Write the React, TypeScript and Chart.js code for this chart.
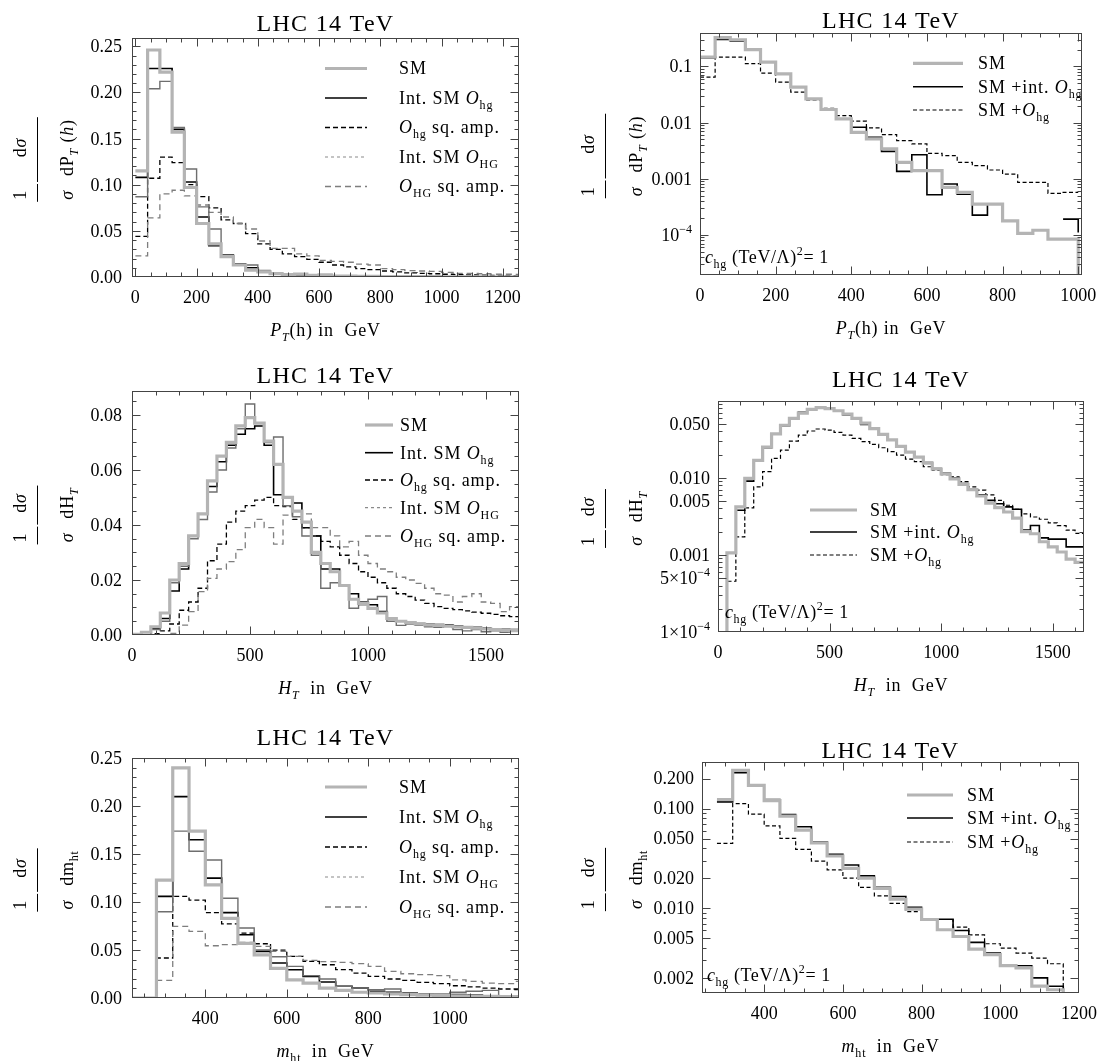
import React, { useEffect, useRef } from "react";
import { Chart, registerables } from "chart.js";

Chart.register(...registerables);

const PAGE_W = 1100;
const PAGE_H = 1061;
const FONT = '"Liberation Serif", "Times New Roman", "DejaVu Serif", serif';
const FRAME = "#444444";

/* ======================= DATA ======================= */
/* P_T(h): 40 GeV bins starting at 0 GeV */
const ptBinStart = 0;
const ptBinWidth = 40;
const ptSM = [0.115, 0.246, 0.222, 0.157, 0.097, 0.058, 0.036, 0.022, 0.013, 0.0075,
  0.0055, 0.0035, 0.0025, 0.0032, 0.0018, 0.0022, 0.0011, 0.0009, 0.0007, 0.0006,
  0.0005, 0.0004, 0.0004, 0.0003, 0.0003, 0.0002, 0.0002, 0.0002, 0.0001, 0.0001,
  0.0001, 0.0001];
const ptIntHg = [0.108, 0.226, 0.226, 0.160, 0.103, 0.065, 0.034, 0.024, 0.014, 0.010,
  0.0055, 0.003, 0.002, 0.0015, 0.0012, 0.001, 0.0008, 0.0006, 0.0005, 0.0004,
  0.0004, 0.0003, 0.0003, 0.0002, 0.0002, 0.0002, 0.0001, 0.0001, 0.0001, 0.0001,
  0.0001, 0.0001];
const ptSqHg = [0.044, 0.107, 0.130, 0.124, 0.100, 0.087, 0.075, 0.062, 0.058, 0.047,
  0.036, 0.030, 0.025, 0.022, 0.019, 0.016, 0.013, 0.011, 0.009, 0.008,
  0.0065, 0.0055, 0.0045, 0.004, 0.0035, 0.003, 0.0026, 0.0022, 0.002, 0.0018,
  0.0015, 0.0013];
const ptIntHG = [0.087, 0.204, 0.212, 0.162, 0.117, 0.076, 0.052, 0.024, 0.013, 0.013,
  0.007, 0.004, 0.003, 0.002, 0.0025, 0.0015, 0.0012, 0.001, 0.0008, 0.0006,
  0.0006, 0.0005, 0.0004, 0.0004, 0.0003, 0.0003, 0.0003, 0.0002, 0.0002, 0.0002,
  0.0002, 0.0002];
const ptSqHG = [0.023, 0.064, 0.090, 0.094, 0.088, 0.078, 0.070, 0.065, 0.058, 0.052,
  0.039, 0.031, 0.031, 0.025, 0.023, 0.018, 0.017, 0.016, 0.014, 0.013,
  0.009, 0.008, 0.007, 0.0065, 0.006, 0.005, 0.004, 0.0038, 0.0035, 0.003,
  0.003, 0.0028];
/* log panel: SM, SM + int. O_hg, SM + O_hg */
const ptLogSM = [0.147, 0.325, 0.299, 0.199, 0.119, 0.074, 0.0428, 0.0265, 0.0171, 0.0116,
  0.00672, 0.00511, 0.00339, 0.00196, 0.00139, 0.00139, 0.0007, 0.00057, 0.000353, 0.000353,
  0.000178, 0.000106, 0.000121, 0.0000837, 0.0000837];
const ptLogSMTail = 0;
const ptLogInt = [0.141, 0.303, 0.283, 0.199, 0.119, 0.074, 0.0428, 0.0265, 0.0171, 0.0116,
  0.00826, 0.00547, 0.00307, 0.00135, 0.00268, 0.000518, 0.000804, 0.000532, 0.000225, 0.000353,
  null, null, null, null, 0.000191];
const ptLogIntTail = 0.00011;
const ptLogFull = [0.0645, 0.147, 0.147, 0.112, 0.076, 0.0525, 0.0348, 0.0254, 0.018, 0.0133,
  0.0106, 0.00804, 0.00611, 0.00477, 0.00416, 0.00283, 0.00258, 0.00196, 0.00171, 0.00143,
  0.00121, 0.000861, 0.000861, 0.000547, 0.00057];

/* H_T: 40 GeV bins starting at 0 GeV */
const htBinStart = 0;
const htBinWidth = 40;
const htSM = [0.0002, 0.001, 0.003, 0.008, 0.020, 0.026, 0.036, 0.044, 0.056, 0.065,
  0.070, 0.076, 0.079, 0.077, 0.0705, 0.062, 0.050, 0.045, 0.041, 0.030,
  0.026, 0.023, 0.018, 0.013, 0.0115, 0.0097, 0.008, 0.006, 0.005, 0.0045,
  0.004, 0.0037, 0.0035, 0.0032, 0.003, 0.0028, 0.0025, 0.0022, 0.002, 0.0018,
  0.0016];
const htIntHg = [0.0002, 0.001, 0.0025, 0.006, 0.016, 0.024, 0.036, 0.044, 0.054, 0.063,
  0.069, 0.073, 0.075, 0.076, 0.069, 0.051, 0.050, 0.048, 0.039, 0.036,
  0.024, 0.024, 0.018, 0.015, 0.012, 0.011, 0.0085, 0.006, 0.005, 0.0045,
  0.0042, 0.004, 0.0038, 0.0037, 0.0033, 0.003, 0.0028, 0.0025, 0.0022, 0.0021,
  0.002];
const htSqHg = [0, 0, 0.0005, 0.0015, 0.004, 0.009, 0.012, 0.017, 0.027, 0.033,
  0.041, 0.045, 0.047, 0.049, 0.050, 0.047, 0.0467, 0.042, 0.039, 0.036,
  0.034, 0.032, 0.029, 0.026, 0.023, 0.021, 0.019, 0.017, 0.015, 0.014,
  0.0127, 0.0115, 0.0103, 0.0097, 0.0092, 0.0088, 0.0083, 0.0079, 0.0075, 0.007,
  0.0067];
const htIntHG = [0.0002, 0.001, 0.002, 0.005, 0.019, 0.025, 0.035, 0.042, 0.052, 0.060,
  0.068, 0.075, 0.084, 0.077, 0.070, 0.072, 0.047, 0.043, 0.036, 0.029,
  0.017, 0.019, 0.018, 0.0097, 0.011, 0.013, 0.014, 0.005, 0.0035, 0.004,
  0.0035, 0.003, 0.0028, 0.0035, 0.002, 0.0015, 0.002, 0.0012, 0.0015, 0.001,
  0.0014];
const htSqHG = [0, 0, 0, 0, 0.0006, 0.0036, 0.0085, 0.0158, 0.0206, 0.024,
  0.0267, 0.031, 0.039, 0.042, 0.039, 0.033, 0.0436, 0.045, 0.044, 0.039,
  0.039, 0.036, 0.032, 0.034, 0.029, 0.026, 0.024, 0.023, 0.021, 0.020,
  0.0188, 0.017, 0.015, 0.0145, 0.012, 0.014, 0.015, 0.012, 0.0115, 0.0085,
  0.0103];
const htLogSM = [0, 0.00106, 0.0042, 0.0098, 0.0168, 0.025, 0.037, 0.048, 0.059, 0.069,
  0.077, 0.081, 0.079, 0.074, 0.067, 0.059, 0.051, 0.0435, 0.0365, 0.031,
  0.0255, 0.0215, 0.0185, 0.0155, 0.013, 0.0112, 0.0097, 0.0082, 0.007, 0.0058,
  0.0047, 0.0041, 0.0036, 0.003, 0.002, 0.00188, 0.00148, 0.00127, 0.00109, 0.00088,
  0.0008];
const htLogInt = [0, 0.00106, 0.0038, 0.00906, 0.0164, 0.0245, 0.0366, 0.0473, 0.059, 0.0705,
  0.078, 0.0819, 0.0794, 0.0734, 0.0652, 0.0573, 0.0493, 0.0429, 0.0366, 0.0308,
  0.026, 0.0218, 0.0187, 0.0158, 0.0132, 0.0114, 0.01, 0.0084, 0.007, 0.006,
  0.0051, 0.0046, 0.0042, 0.0039, 0.0021, 0.0024, 0.00166, 0.0016, 0.0016, 0.00127,
  0.00127];
const htLogFull = [0, 0.000455, 0.00171, 0.00408, 0.00763, 0.012, 0.0178, 0.0229, 0.0299, 0.0358,
  0.0404, 0.0429, 0.0416, 0.0388, 0.0358, 0.0324, 0.0294, 0.0271, 0.0245, 0.0218,
  0.0197, 0.0175, 0.0162, 0.0139, 0.0126, 0.011, 0.0103, 0.0089, 0.0076, 0.0069,
  0.006, 0.0051, 0.0044, 0.0039, 0.0034, 0.0031, 0.0029, 0.0026, 0.0024, 0.0021,
  0.0019];

/* m_ht: 40 GeV bins */
const mhtBinStart = 200;
const mhtBinWidth = 40;
const mhtSM = [0, 0, 0.123, 0.240, 0.174, 0.118, 0.083, 0.057, 0.045, 0.031,
  0.019, 0.0156, 0.0104, 0.008, 0.006, 0.0052, 0.0042, 0.0035, 0.003, 0.0024,
  0.0022, 0.002, 0.0017, 0.0014, 0.0012];
const mhtIntHg = [0, 0, 0.106, 0.210, 0.165, 0.125, 0.089, 0.066, 0.0486, 0.0365,
  0.0295, 0.0226, 0.0167, 0.0122, 0.0104, 0.007, 0.006, 0.0052, 0.0045, 0.0035,
  0.0035, 0.003, 0.0024, 0.0017, 0.0015];
const mhtSqHg = [0, 0, 0.0417, 0.106, 0.102, 0.089, 0.0774, 0.0677, 0.0566, 0.050,
  0.0434, 0.0382, 0.0347, 0.0295, 0.026, 0.0226, 0.0198, 0.0184, 0.0163, 0.0149,
  0.0128, 0.0115, 0.0104, 0.0094, 0.0087];
const mhtIntHG = [0, 0, 0.090, 0.174, 0.153, 0.144, 0.104, 0.073, 0.050, 0.043,
  0.033, 0.0233, 0.0198, 0.0122, 0.0104, 0.0087, 0.0094, 0.0052, 0.0045, 0.004,
  0.006, 0.007, 0.008, 0.0017, 0.0015];
const mhtSqHG = [0, 0, 0.0184, 0.0747, 0.0694, 0.0545, 0.0556, 0.058, 0.0538, 0.0486,
  0.0434, 0.0392, 0.038, 0.0372, 0.0358, 0.033, 0.0278, 0.0253, 0.0243, 0.0233,
  0.019, 0.0174, 0.0156, 0.0149, 0.0174];
const mhtLogBinStart = 280;
const mhtLogSM = [0.123, 0.242, 0.171, 0.12, 0.0838, 0.0607, 0.0453, 0.0334, 0.0251, 0.02,
  0.0158, 0.0123, 0.00977, 0.0077, 0.00608, 0.0052, 0.00389, 0.00342, 0.00265, 0.00252,
  0.00165, 0.00152];
const mhtLogInt = [0.1166, 0.229, 0.171, 0.123, 0.0871, 0.0656, 0.0464, 0.0347, 0.0271, 0.0211,
  0.0162, 0.0131, 0.0102, 0.00776, 0.00776, 0.00598, 0.00454, 0.00355, 0.00271, 0.00265,
  0.002, 0.00165];
const mhtLogFull = [0.0447, 0.112, 0.0878, 0.0671, 0.0501, 0.0389, 0.0297, 0.0242, 0.02, 0.0162,
  0.0133, 0.0112, 0.00926, 0.00776, 0.0077, 0.00646, 0.00541, 0.0044, 0.00398, 0.00355,
  0.00316, 0.00277];
const mhtLogTail = 0;

/* tick values and labels */
const ptXTicks = [0, 200, 400, 600, 800, 1000, 1200];
const ptXLabels = ["0", "200", "400", "600", "800", "1000", "1200"];
const ptYTicks = [0, 0.05, 0.1, 0.15, 0.2, 0.25];
const ptYLabels = ["0.00", "0.05", "0.10", "0.15", "0.20", "0.25"];
const ptLogYTicks = [0.1, 0.01, 0.001, 0.0001];
const ptLogYLabels = ["0.1", "0.01", "0.001", "10^−4"];
const htXTicks = [0, 500, 1000, 1500];
const htXLabels = ["0", "500", "1000", "1500"];
const htYTicks = [0, 0.02, 0.04, 0.06, 0.08];
const htYLabels = ["0.00", "0.02", "0.04", "0.06", "0.08"];
const htLogYTicks = [0.05, 0.01, 0.005, 0.001, 0.0005, 0.0001];
const htLogYLabels = ["0.050", "0.010", "0.005", "0.001", "5×10^−4", "1×10^−4"];
const mhtXTicks = [400, 600, 800, 1000, 1200];
const mhtXLabels = ["400", "600", "800", "1000", "1200"];
const mhtYTicks = [0, 0.05, 0.1, 0.15, 0.2, 0.25];
const mhtYLabels = ["0.00", "0.05", "0.10", "0.15", "0.20", "0.25"];
const mhtLogYTicks = [0.2, 0.1, 0.05, 0.02, 0.01, 0.005, 0.002];
const mhtLogYLabels = ["0.200", "0.100", "0.050", "0.020", "0.010", "0.005", "0.002"];

/* ======================= TYPES / STYLES ======================= */
type Seg = { t: string; i?: boolean; sub?: boolean; sup?: boolean };
type LineStyle = { color: string; lw: number; dash?: number[] };

const SM_ST: LineStyle = { color: "#b4b4b4", lw: 3.2 };
const INT_ST: LineStyle = { color: "#000000", lw: 1.6 };
const SQ_ST: LineStyle = { color: "#000000", lw: 1.3, dash: [5, 3] };
const INTHG_ST: LineStyle = { color: "#6e6e6e", lw: 1.4 };
const INTHG_LEG: LineStyle = { color: "#8a8a8a", lw: 1.2, dash: [3, 3] };
const SQHG_ST: LineStyle = { color: "#7e7e7e", lw: 1.3, dash: [6, 4] };
const FULL_ST: LineStyle = { color: "#000000", lw: 1.2, dash: [4, 2.5] };

const LEFT_YLAB = [20, 37, 67];
const RIGHT_YLAB = [588, 605, 636];

const segsSM: Seg[] = [{ t: "SM" }];
const segsIntHg: Seg[] = [{ t: "Int. SM " }, { t: "O", i: true }, { t: "hg", sub: true }];
const segsSqHg: Seg[] = [{ t: "O", i: true }, { t: "hg", sub: true }, { t: " sq. amp." }];
const segsIntHG: Seg[] = [{ t: "Int. SM " }, { t: "O", i: true }, { t: "HG", sub: true }];
const segsSqHG: Seg[] = [{ t: "O", i: true }, { t: "HG", sub: true }, { t: " sq. amp." }];
const segsSMInt: Seg[] = [{ t: "SM +int. " }, { t: "O", i: true }, { t: "hg", sub: true }];
const segsSMFull: Seg[] = [{ t: "SM +" }, { t: "O", i: true }, { t: "hg", sub: true }];
const segsNote: Seg[] = [{ t: "c", i: true }, { t: "hg", sub: true }, { t: " (TeV/Λ)" }, { t: "2", sup: true }, { t: "= 1" }];

const leftLegendItems = [
  { segs: segsSM, ...SM_ST },
  { segs: segsIntHg, ...INT_ST },
  { segs: segsSqHg, ...SQ_ST },
  { segs: segsIntHG, ...INTHG_LEG },
  { segs: segsSqHG, ...SQHG_ST },
];
const rightLegendItems = [
  { segs: segsSM, ...SM_ST },
  { segs: segsSMInt, ...INT_ST },
  { segs: segsSMFull, ...FULL_ST },
];

const ptTitle: Seg[] = [{ t: "P", i: true }, { t: "T", i: true, sub: true }, { t: "(h) in  GeV" }];
const htTitle: Seg[] = [{ t: "H", i: true }, { t: "T", i: true, sub: true }, { t: "  in  GeV" }];
const mhtTitle: Seg[] = [{ t: "m", i: true }, { t: "ht", sub: true }, { t: "  in  GeV" }];
const ptDenom: Seg[] = [{ t: "dP" }, { t: "T", i: true, sub: true }, { t: " (" }, { t: "h", i: true }, { t: ")" }];
const htDenom: Seg[] = [{ t: "dH" }, { t: "T", i: true, sub: true }];
const mhtDenom: Seg[] = [{ t: "dm" }, { t: "ht", sub: true }];

function S(values: (number | null)[], start: number, width: number, st: LineStyle, tail?: number) {
  return { values, start, width, tail, ...st };
}

const PANELS: any[] = [
  {
    L: 132, R: 519, T: 38, B: 277, xMin: -11, xMax: 1253, yMin: 0, yMax: 0.259, log: false,
    xTicks: ptXTicks, xLabels: ptXLabels, xMinor: 50, yTicks: ptYTicks, yLabels: ptYLabels, yMinor: 0.01,
    titleY: 23, xTitle: ptTitle, yDenom: ptDenom, yLab: LEFT_YLAB, labelGap: 10,
    legend: { x0: 325, x1: 367, tx: 399, rows: [68.5, 98, 127.5, 157, 186.5], items: leftLegendItems },
    series: [
      S(ptSM, ptBinStart, ptBinWidth, SM_ST), S(ptIntHG, ptBinStart, ptBinWidth, INTHG_ST),
      S(ptSqHG, ptBinStart, ptBinWidth, SQHG_ST), S(ptSqHg, ptBinStart, ptBinWidth, SQ_ST),
      S(ptIntHg, ptBinStart, ptBinWidth, INT_ST),
    ],
  },
  {
    L: 700, R: 1082, T: 33, B: 275, xMin: 0, xMax: 1010, yMin: 1.93e-5, yMax: 0.394, log: true,
    xTicks: ptXTicks, xLabels: ptXLabels, xMinor: 50, yTicks: ptLogYTicks, yLabels: ptLogYLabels,
    titleY: 20, xTitle: ptTitle, yDenom: ptDenom, yLab: RIGHT_YLAB, labelGap: 8,
    legend: { x0: 913, x1: 963, tx: 978, rows: [63.3, 86.7, 110], items: rightLegendItems },
    note: { x: 705, y: 257 },
    series: [
      S(ptLogSM, ptBinStart, ptBinWidth, SM_ST, ptLogSMTail), S(ptLogFull, ptBinStart, ptBinWidth, FULL_ST),
      S(ptLogInt, ptBinStart, ptBinWidth, INT_ST, ptLogIntTail),
    ],
  },
  {
    L: 132, R: 519, T: 391, B: 635, xMin: 0, xMax: 1640, yMin: 0, yMax: 0.0887, log: false,
    xTicks: htXTicks, xLabels: htXLabels, xMinor: 100, yTicks: htYTicks, yLabels: htYLabels, yMinor: 0.005,
    titleY: 375, xTitle: htTitle, yDenom: htDenom, yLab: LEFT_YLAB, labelGap: 10,
    legend: { x0: 365, x1: 393, tx: 400, rows: [425, 452.7, 480, 507.7, 536], items: leftLegendItems },
    series: [
      S(htSM, htBinStart, htBinWidth, SM_ST), S(htIntHG, htBinStart, htBinWidth, INTHG_ST),
      S(htSqHG, htBinStart, htBinWidth, SQHG_ST), S(htSqHg, htBinStart, htBinWidth, SQ_ST),
      S(htIntHg, htBinStart, htBinWidth, INT_ST),
    ],
  },
  {
    L: 718, R: 1084, T: 401, B: 632, xMin: 0, xMax: 1640, yMin: 0.0001, yMax: 0.099, log: true,
    xTicks: htXTicks, xLabels: htXLabels, xMinor: 100, yTicks: htLogYTicks, yLabels: htLogYLabels,
    titleY: 379, xTitle: htTitle, yDenom: htDenom, yLab: RIGHT_YLAB, labelGap: 8,
    legend: { x0: 810, x1: 857, tx: 870, rows: [510, 532, 555], items: rightLegendItems },
    note: { x: 725, y: 612 },
    series: [
      S(htLogSM, htBinStart, htBinWidth, SM_ST), S(htLogFull, htBinStart, htBinWidth, FULL_ST),
      S(htLogInt, htBinStart, htBinWidth, INT_ST),
    ],
  },
  {
    L: 132, R: 519, T: 758, B: 998, xMin: 220, xMax: 1170, yMin: 0, yMax: 0.2503, log: false,
    xTicks: mhtXTicks, xLabels: mhtXLabels, xMinor: 50, yTicks: mhtYTicks, yLabels: mhtYLabels, yMinor: 0.01,
    titleY: 737, xTitle: mhtTitle, yDenom: mhtDenom, yLab: LEFT_YLAB, labelGap: 10,
    legend: { x0: 325, x1: 367, tx: 399, rows: [787, 817, 847, 877, 907], items: leftLegendItems },
    series: [
      S(mhtSM, mhtBinStart, mhtBinWidth, SM_ST), S(mhtIntHG, mhtBinStart, mhtBinWidth, INTHG_ST),
      S(mhtSqHG, mhtBinStart, mhtBinWidth, SQHG_ST), S(mhtSqHg, mhtBinStart, mhtBinWidth, SQ_ST),
      S(mhtIntHg, mhtBinStart, mhtBinWidth, INT_ST),
    ],
  },
  {
    L: 702, R: 1079, T: 762, B: 993, xMin: 242, xMax: 1200, yMin: 0.00141, yMax: 0.293, log: true,
    xTicks: mhtXTicks, xLabels: mhtXLabels, xMinor: 50, yTicks: mhtLogYTicks, yLabels: mhtLogYLabels,
    titleY: 750, xTitle: mhtTitle, yDenom: mhtDenom, yLab: RIGHT_YLAB, labelGap: 8,
    legend: { x0: 907, x1: 953, tx: 967, rows: [795, 818, 842], items: rightLegendItems },
    note: { x: 707, y: 975 },
    series: [
      S(mhtLogSM, mhtLogBinStart, mhtBinWidth, SM_ST, mhtLogTail), S(mhtLogFull, mhtLogBinStart, mhtBinWidth, FULL_ST, mhtLogTail),
      S(mhtLogInt, mhtLogBinStart, mhtBinWidth, INT_ST, mhtLogTail),
    ],
  },
];

/* ======================= HELPERS ======================= */
function segFont(s: Seg, size: number) {
  const sz = s.sub || s.sup ? Math.round(size * 0.68) : size;
  return `${s.i ? "italic " : ""}${sz}px ${FONT}`;
}
function richWidth(ctx: CanvasRenderingContext2D, segs: Seg[], size: number) {
  let w = 0;
  for (const s of segs) {
    ctx.font = segFont(s, size);
    w += ctx.measureText(s.t).width;
  }
  return w;
}
function drawRich(ctx: CanvasRenderingContext2D, segs: Seg[], x: number, yc: number, size: number, align: string) {
  const w = richWidth(ctx, segs, size);
  let cx = align === "left" ? x : align === "center" ? x - w / 2 : x - w;
  const base = yc + size * 0.33;
  ctx.textAlign = "left";
  ctx.textBaseline = "alphabetic";
  for (const s of segs) {
    ctx.font = segFont(s, size);
    const dy = s.sub ? size * 0.28 : s.sup ? -size * 0.42 : 0;
    ctx.fillText(s.t, cx, base + dy);
    cx += ctx.measureText(s.t).width;
  }
}
function parseLabel(s: string): Seg[] {
  const k = s.indexOf("^");
  if (k < 0) return [{ t: s }];
  return [{ t: s.slice(0, k) }, { t: s.slice(k + 1), sup: true }];
}
function linSteps(min: number, max: number, step: number) {
  const out: number[] = [];
  for (let k = Math.ceil(min / step - 1e-9); k * step <= max + 1e-9; k++) out.push(k * step);
  return out;
}
function logSteps(min: number, max: number) {
  const out: number[] = [];
  for (let d = Math.floor(Math.log10(min)); d <= Math.ceil(Math.log10(max)); d++)
    for (let m = 1; m < 10; m++) {
      const v = m * Math.pow(10, d);
      if (v >= min * 0.999 && v <= max * 1.001) out.push(v);
    }
  return out;
}
function stepPoints(ser: any, log: boolean, floor: number) {
  const pts: { x: number; y: number | null }[] = [];
  const fix = (v: number) => (log && v <= 0 ? floor : v);
  ser.values.forEach((v: number | null, i: number) => {
    const x0 = ser.start + i * ser.width;
    if (v === null) {
      pts.push({ x: x0, y: null });
      return;
    }
    pts.push({ x: x0, y: fix(v) }, { x: x0 + ser.width, y: fix(v) });
  });
  if (ser.tail !== undefined) pts.push({ x: ser.start + ser.values.length * ser.width, y: fix(ser.tail) });
  return pts;
}

function drawYLabel(ctx: CanvasRenderingContext2D, p: any, cy: number) {
  const size = 18;
  const [xn, xb, xd] = p.yLab;
  const n1: Seg[] = [{ t: "1" }];
  const d1: Seg[] = [{ t: "σ", i: true }];
  const n2: Seg[] = [{ t: "d" }, { t: "σ", i: true }];
  const d2: Seg[] = p.yDenom;
  ctx.save();
  ctx.letterSpacing = "0.8px";
  const w1 = Math.max(richWidth(ctx, n1, size), richWidth(ctx, d1, size));
  const w2 = Math.max(richWidth(ctx, n2, size), richWidth(ctx, d2, size));
  const gap = 14;
  const total = w1 + gap + w2;
  const u0 = -total / 2;
  ctx.translate(0, cy);
  ctx.rotate(-Math.PI / 2);
  ctx.fillStyle = "#000";
  drawRich(ctx, n1, u0 + w1 / 2, xn, size, "center");
  drawRich(ctx, d1, u0 + w1 / 2, xd, size, "center");
  drawRich(ctx, n2, u0 + w1 + gap + w2 / 2, xn, size, "center");
  drawRich(ctx, d2, u0 + w1 + gap + w2 / 2, xd, size, "center");
  ctx.strokeStyle = "#000";
  ctx.lineWidth = 1;
  ctx.setLineDash([]);
  ctx.beginPath();
  ctx.moveTo(u0 - 2, xb + 0.5);
  ctx.lineTo(u0 + w1 + gap / 2 - 1, xb + 0.5);
  ctx.moveTo(u0 + w1 + gap / 2 + 1, xb + 0.5);
  ctx.lineTo(u0 + total + 2, xb + 0.5);
  ctx.stroke();
  ctx.restore();
}

function makeDecor(p: any) {
  return {
    id: "decor",
    afterDraw(chart: any) {
      const ctx: CanvasRenderingContext2D = chart.ctx;
      const a = chart.chartArea;
      const xs = chart.scales.x;
      const ys = chart.scales.y;
      ctx.save();
      ctx.setLineDash([]);
      const l = Math.round(a.left) + 0.5;
      const r = Math.round(a.right) - 0.5;
      const t = Math.round(a.top) + 0.5;
      const b = Math.round(a.bottom) - 0.5;
      ctx.strokeStyle = FRAME;
      ctx.lineWidth = 1;
      const xTick = (v: number, len: number) => {
        const px = Math.round(xs.getPixelForValue(v)) + 0.5;
        if (px < l - 0.1 || px > r + 0.1) return;
        ctx.beginPath();
        ctx.moveTo(px, b);
        ctx.lineTo(px, b - len);
        ctx.moveTo(px, t);
        ctx.lineTo(px, t + len);
        ctx.stroke();
      };
      const yTick = (v: number, len: number) => {
        const py = Math.round(ys.getPixelForValue(v)) + 0.5;
        if (py < t - 0.1 || py > b + 0.1) return;
        ctx.beginPath();
        ctx.moveTo(l, py);
        ctx.lineTo(l + len, py);
        ctx.moveTo(r, py);
        ctx.lineTo(r - len, py);
        ctx.stroke();
      };
      linSteps(p.xMin, p.xMax, p.xMinor).forEach((v) => xTick(v, 4));
      p.xTicks.forEach((v: number) => xTick(v, 8));
      const yMinors = p.log ? logSteps(p.yMin, p.yMax) : linSteps(p.yMin, p.yMax, p.yMinor);
      yMinors.forEach((v) => yTick(v, 4));
      p.yTicks.forEach((v: number) => yTick(v, 8));
      ctx.strokeRect(l, t, r - l, b - t);

      ctx.fillStyle = "#000";
      p.xTicks.forEach((v: number, i: number) => {
        const px = xs.getPixelForValue(v);
        if (px < a.left - 1 || px > a.right + 1) return;
        drawRich(ctx, parseLabel(p.xLabels[i]), px, a.bottom + 20, 18, "center");
      });
      p.yTicks.forEach((v: number, i: number) => {
        const py = ys.getPixelForValue(v);
        drawRich(ctx, parseLabel(p.yLabels[i]), a.left - p.labelGap, py, 18, "right");
      });
      const cx = (a.left + a.right) / 2;
      ctx.letterSpacing = "1.3px";
      drawRich(ctx, [{ t: "LHC 14 TeV" }], cx, p.titleY, 24, "center");
      ctx.letterSpacing = "0.8px";
      drawRich(ctx, p.xTitle, cx, a.bottom + 53, 18, "center");
      ctx.letterSpacing = "0px";
      drawYLabel(ctx, p, (a.top + a.bottom) / 2 + 2);

      const lg = p.legend;
      lg.items.forEach((it: any, i: number) => {
        const y = lg.rows[i];
        ctx.strokeStyle = it.color;
        ctx.lineWidth = it.lw;
        ctx.setLineDash(it.dash || []);
        ctx.beginPath();
        ctx.moveTo(lg.x0, y);
        ctx.lineTo(lg.x1, y);
        ctx.stroke();
        ctx.setLineDash([]);
        ctx.letterSpacing = "0.9px";
        ctx.fillStyle = "#000";
        drawRich(ctx, it.segs, lg.tx, y, 18, "left");
        ctx.letterSpacing = "0px";
      });
      if (p.note) {
        ctx.letterSpacing = "0.6px";
        drawRich(ctx, segsNote, p.note.x, p.note.y, 18, "left");
        ctx.letterSpacing = "0px";
      }
      ctx.restore();
    },
  };
}

function PanelChart({ p }: { p: any }) {
  const ref = useRef<HTMLCanvasElement | null>(null);
  useEffect(() => {
    const canvas = ref.current;
    if (!canvas) return;
    const floor = p.log ? p.yMin / 100 : 0;
    const chart = new Chart(canvas, {
      type: "line",
      data: {
        datasets: p.series.map((s: any) => ({
          data: stepPoints(s, p.log, floor),
          borderColor: s.color,
          borderWidth: s.lw,
          borderDash: s.dash || [],
          borderCapStyle: "butt",
          borderJoinStyle: "miter",
          pointRadius: 0,
          pointHoverRadius: 0,
          fill: false,
          tension: 0,
          spanGaps: false,
          clip: 0,
        })),
      },
      options: {
        animation: false,
        responsive: false,
        maintainAspectRatio: false,
        devicePixelRatio: 1,
        events: [],
        layout: { padding: { left: p.L, top: p.T, right: PAGE_W - p.R, bottom: PAGE_H - p.B } },
        plugins: { legend: { display: false }, tooltip: { enabled: false }, title: { display: false } },
        scales: {
          x: { type: "linear", min: p.xMin, max: p.xMax, display: false },
          y: { type: p.log ? "logarithmic" : "linear", min: p.yMin, max: p.yMax, display: false },
        },
      },
      plugins: [makeDecor(p)],
    } as any);
    return () => chart.destroy();
  }, [p]);
  return (
    <canvas
      ref={ref}
      width={PAGE_W}
      height={PAGE_H}
      style={{ position: "absolute", left: 0, top: 0, width: PAGE_W, height: PAGE_H }}
    />
  );
}

export default function App() {
  return (
    <div style={{ position: "absolute", left: 0, top: 0, width: PAGE_W, height: PAGE_H, background: "#ffffff", overflow: "hidden" }}>
      {PANELS.map((p, i) => (
        <PanelChart key={i} p={p} />
      ))}
    </div>
  );
}
